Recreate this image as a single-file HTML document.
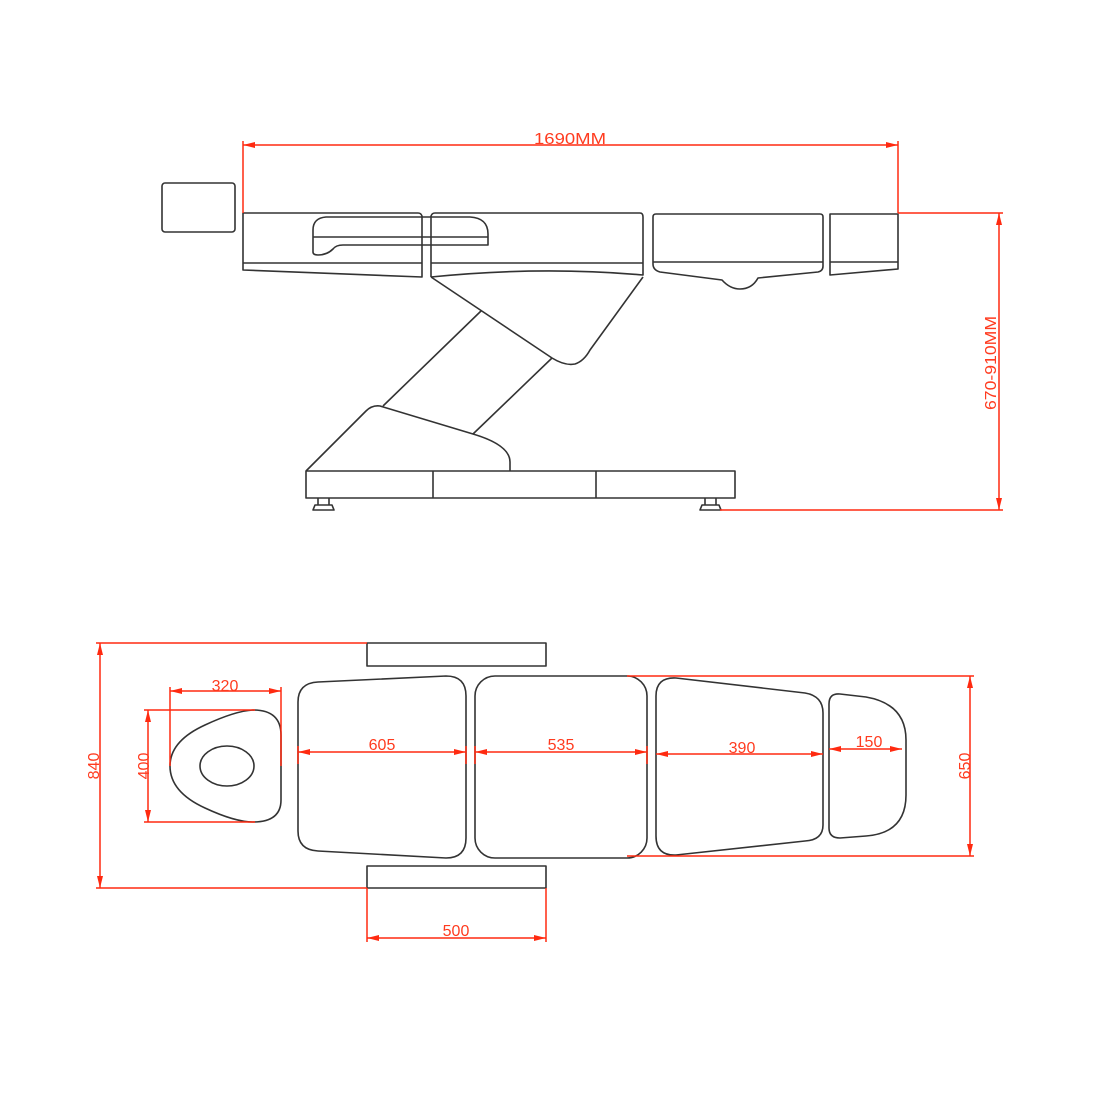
<!DOCTYPE html>
<html><head><meta charset="utf-8"><style>
html,body{margin:0;padding:0;background:#fff;}
svg{display:block;}
text{font-family:"Liberation Sans",sans-serif;fill:#ff3b1f;}
</style></head><body>
<svg width="1117" height="1117" viewBox="0 0 1117 1117" xmlns="http://www.w3.org/2000/svg">
<defs>
<marker id="a" viewBox="0 0 12 6" refX="12" refY="3" markerWidth="12" markerHeight="6" orient="auto-start-reverse" markerUnits="userSpaceOnUse"><path d="M0,0 L12,3 L0,6 z" fill="#ff2a10"/></marker>
</defs>
<rect width="1117" height="1117" fill="#fff"/>
<g fill="none" stroke="#333" stroke-width="1.6" stroke-linejoin="round">
<!-- side view -->
<rect x="162" y="183" width="73" height="49" rx="3"/>
<path d="M243,213 L418,213 Q421,213 422,216 L422,277 L243,270 Z"/>
<line x1="243" y1="263" x2="422" y2="263"/>
<path d="M431,277 L431,216 Q432,213 435,213 L640,213 Q643,213 643,217 L643,275 Q540,266 431,277"/>
<line x1="431" y1="263" x2="643" y2="263"/>
<path d="M313,252 L313,230 Q313,218 326,217 L470,217 Q488,218 488,234 L488,245 L343,245 Q336,245 333,249 Q327,255 318,255 Q313,255 313,252 Z"/>
<line x1="313" y1="237" x2="488" y2="237"/>
<path d="M653,217 Q653,214 656,214 L820,214 Q823,214 823,217 L823,266 Q823,271 818,272 L758,278 Q752,289 740,289 Q730,289 722,280 L660,272 Q653,270 653,264 Z"/>
<line x1="653" y1="262" x2="823" y2="262"/>
<path d="M830,214 L898,214 L898,269 L830,275 Z"/>
<line x1="830" y1="262" x2="898" y2="262"/>
<!-- column -->
<path d="M431,277 L552,358 Q565,366 575,364 Q584,361 590,350 L643,277"/>
<line x1="481" y1="311" x2="383" y2="406"/>
<line x1="552" y1="358" x2="473" y2="434"/>
<path d="M306,471 L366,411 Q372,405 380,406 L473,434 Q510,445 510,462 L510,471"/>
<rect x="306" y="471" width="429" height="27"/>
<line x1="433" y1="471" x2="433" y2="498"/>
<line x1="596" y1="471" x2="596" y2="498"/>
<path d="M318,498 L318,505 M329,498 L329,505 M313,510 L315,505 L332,505 L334,510 Z"/>
<path d="M705,498 L705,505 M716,498 L716,505 M700,510 L702,505 L719,505 L721,510 Z"/>
<!-- top view -->
<rect x="367" y="643" width="179" height="23"/>
<rect x="367" y="866" width="179" height="22"/>
<path d="M253,710 Q235,711 205,725 Q170,741 170,766 Q170,792 205,808 Q235,822 253,822 Q281,822 281,800 L281,735 Q281,710 253,710 Z"/>
<ellipse cx="227" cy="766" rx="27" ry="20"/>
<path d="M318,682 L446,676 Q466,676 466,696 L466,838 Q466,858 446,858 L318,851 Q298,850 298,831 L298,702 Q298,683 318,682 Z"/>
<rect x="475" y="676" width="172" height="182" rx="20"/>
<path d="M676,678 L805,693 Q823,696 823,713 L823,825 Q823,840 805,841 L676,855 Q656,856 656,836 L656,696 Q656,677 676,678 Z"/>
<path d="M840,694 L866,697 Q906,704 906,740 L906,795 Q906,833 866,836 L840,838 Q829,838 829,828 L829,704 Q829,693 840,694 Z"/>
</g>
<g fill="none" stroke="#ff2a10" stroke-width="1.5">
<line x1="243" y1="213" x2="243" y2="141"/>
<line x1="898" y1="213" x2="898" y2="141"/>
<line x1="243" y1="145" x2="898" y2="145" marker-start="url(#a)" marker-end="url(#a)"/>
<line x1="898" y1="213" x2="1003" y2="213"/>
<line x1="720" y1="510" x2="1003" y2="510"/>
<line x1="999" y1="213" x2="999" y2="510" marker-start="url(#a)" marker-end="url(#a)"/>
<line x1="367" y1="643" x2="96" y2="643"/>
<line x1="367" y1="888" x2="96" y2="888"/>
<line x1="100" y1="643" x2="100" y2="888" marker-start="url(#a)" marker-end="url(#a)"/>
<line x1="367" y1="888" x2="367" y2="942"/>
<line x1="546" y1="888" x2="546" y2="942"/>
<line x1="367" y1="938" x2="546" y2="938" marker-start="url(#a)" marker-end="url(#a)"/>
<line x1="170" y1="687" x2="170" y2="766"/>
<line x1="281" y1="687" x2="281" y2="766"/>
<line x1="170" y1="691" x2="281" y2="691" marker-start="url(#a)" marker-end="url(#a)"/>
<line x1="144" y1="710" x2="255" y2="710"/>
<line x1="144" y1="822" x2="255" y2="822"/>
<line x1="148" y1="710" x2="148" y2="822" marker-start="url(#a)" marker-end="url(#a)"/>
<line x1="298" y1="752" x2="466" y2="752" marker-start="url(#a)" marker-end="url(#a)"/>
<line x1="298" y1="746" x2="298" y2="764"/><line x1="466" y1="746" x2="466" y2="764"/>
<line x1="475" y1="752" x2="647" y2="752" marker-start="url(#a)" marker-end="url(#a)"/>
<line x1="475" y1="746" x2="475" y2="764"/><line x1="647" y1="746" x2="647" y2="764"/>
<line x1="656" y1="754" x2="823" y2="754" marker-start="url(#a)" marker-end="url(#a)"/>
<line x1="829" y1="749" x2="902" y2="749" marker-start="url(#a)" marker-end="url(#a)"/>
<line x1="627" y1="676" x2="974" y2="676"/>
<line x1="627" y1="856" x2="974" y2="856"/>
<line x1="970" y1="676" x2="970" y2="856" marker-start="url(#a)" marker-end="url(#a)"/>
</g>
<g font-size="16">
<text x="570" y="144" text-anchor="middle" textLength="72" lengthAdjust="spacingAndGlyphs">1690MM</text>
<text transform="translate(996,363) rotate(-90)" text-anchor="middle" textLength="94" lengthAdjust="spacingAndGlyphs">670-910MM</text>
<text transform="translate(99,766) rotate(-90)" text-anchor="middle">840</text>
<text transform="translate(149,766) rotate(-90)" text-anchor="middle">400</text>
<text transform="translate(970,766) rotate(-90)" text-anchor="middle">650</text>
<text x="225" y="691" text-anchor="middle">320</text>
<text x="382" y="750" text-anchor="middle">605</text>
<text x="561" y="750" text-anchor="middle">535</text>
<text x="742" y="753" text-anchor="middle">390</text>
<text x="869" y="747" text-anchor="middle">150</text>
<text x="456" y="936" text-anchor="middle">500</text>
</g>
</svg>
</body></html>
